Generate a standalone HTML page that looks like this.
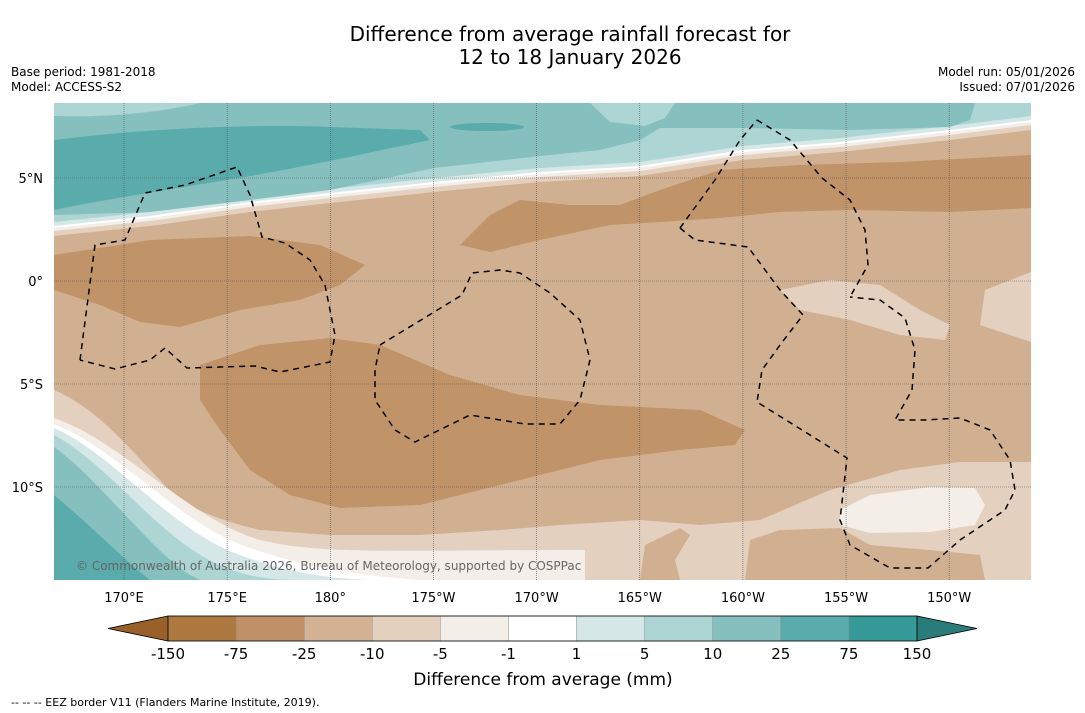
<!DOCTYPE html>
<html><head><meta charset="utf-8"><style>
body{margin:0;background:#fff;width:1085px;height:713px;overflow:hidden;font-family:"DejaVu Sans","Liberation Sans",sans-serif;}
svg{display:block}
</style></head><body>
<svg id="s" width="1085" height="713" viewBox="0 0 1085 713" xmlns="http://www.w3.org/2000/svg" font-family="DejaVu Sans, Liberation Sans, sans-serif">
<text x="570" y="41" font-size="20" text-anchor="middle">Difference from average rainfall forecast for</text>
<text x="570" y="64" font-size="20" text-anchor="middle">12 to 18 January 2026</text>
<text x="11" y="76" font-size="12">Base period: 1981-2018</text>
<text x="11" y="91" font-size="12">Model: ACCESS-S2</text>
<text x="1075" y="76" font-size="12" text-anchor="end">Model run: 05/01/2026</text>
<text x="1075" y="91" font-size="12" text-anchor="end">Issued: 07/01/2026</text>
<defs><clipPath id="mc"><rect x="54" y="103" width="977" height="477"/></clipPath></defs>
<g clip-path="url(#mc)">
<rect x="54" y="103" width="977" height="477" fill="#d1b091"/>
<g id="topbands"></g>
<path d="M54,140 C150,128 250,124 330,127 L420,130 L430,140 C380,150 330,162 250,176 C180,188 100,200 54,210 Z" fill="#5aabab"/>
<ellipse cx="487" cy="127" rx="37" ry="4" fill="#5aabab"/>
<path d="M54,103 L200,103 C170,110 120,118 54,116 Z" fill="#acd5d4"/>
<path d="M590,103 L675,103 L665,118 L645,126 L610,122 Z" fill="#acd5d4"/>
<path d="M54,390 C100,410 130,450 160,480 C180,505 210,518 260,530 L330,535 L420,535 L500,530 L560,525 L640,520 L700,525 L760,520 L830,490 L900,470 L960,462 L1031,462 L1031,580 L54,580 Z" fill="#e4d0bf"/>
<path d="M640,580 L645,545 L680,528 L690,535 L675,560 L680,580 Z" fill="#d1b091"/>
<path d="M745,580 L750,540 L780,530 L840,528 L870,545 L930,550 L980,555 L985,580 Z" fill="#d1b091"/>
<path d="M780,290 L830,280 L880,285 L920,310 L950,325 L945,340 L900,335 L850,320 L800,310 Z" fill="#e4d0bf"/>
<path d="M985,290 L1031,272 L1031,342 L980,325 Z" fill="#e4d0bf"/>
<path d="M54,418 C120,440 190,520 260,540 C320,555 400,550 585,550 L585,580 L54,580 Z" fill="#f3eee8"/>
<path d="M840,510 L870,495 L930,487 L975,488 L985,505 L975,525 L930,532 L870,533 L840,525 Z" fill="#f3eee8"/>
<path d="M54,424 C120,450 180,525 250,548 C300,565 350,575 420,580 L54,580 Z" fill="#ffffff"/>
<path d="M54,428 C115,455 170,530 240,555 C280,570 320,578 370,580 L54,580 Z" fill="#d5e8e7"/>
<path d="M54,435 C110,465 160,540 220,565 C240,574 260,580 300,580 L54,580 Z" fill="#acd5d4"/>
<path d="M54,447 C100,480 150,550 190,575 L200,580 L54,580 Z" fill="#85bfbe"/>
<path d="M54,495 C90,525 130,565 150,580 L54,580 Z" fill="#5aabab"/>
<path d="M54,255 L150,240 L250,236 L320,245 L365,265 L340,285 L300,300 L240,310 L180,327 L140,322 L100,305 L54,290 Z" fill="#c09369"/>
<path d="M200,365 L260,345 L330,338 L380,345 L450,375 L520,395 L600,405 L700,410 L745,430 L735,445 L680,450 L600,460 L540,475 L480,490 L420,505 L340,508 L290,495 L250,470 L220,430 L200,400 Z" fill="#c09369"/>
<path d="M460,245 L490,215 L520,200 L570,205 L620,205 L660,190 L720,170 L800,165 L900,162 L1031,155 L1031,208 L950,212 L850,210 L780,212 L720,218 L660,222 L610,225 L540,240 L490,252 Z" fill="#c09369"/>
<g id="grid"></g>
<g fill="none" stroke="#000" stroke-width="1.5" stroke-dasharray="6,5">
<polyline points="80,360 95,245 125,240 145,193 185,185 237,167 250,195 262,237 285,243 310,260 325,285 330,310 335,335 330,362 280,372 255,366 187,368 165,348 150,360 115,369 80,360"/>
<polyline points="380,345 462,295 472,273 500,270 520,273 550,293 580,320 590,360 580,400 560,424 525,424 470,415 415,442 395,430 375,400 375,370 380,345"/>
<polyline points="757,120 790,140 822,178 850,200 865,230 868,265 850,297"/>
<polyline points="680,228 715,180 740,140 757,120"/>
<polyline points="680,228 695,240 748,247 780,290 803,315 780,345 762,370 757,402 847,458 840,520 850,545 890,568 928,568 960,540 1005,510 1015,490 1010,460 990,430 960,418 925,420 895,420 912,390 915,350 905,318 880,300 850,297"/>
</g>
<text x="76" y="570" font-size="12" fill="#666">© Commonwealth of Australia 2026, Bureau of Meteorology, supported by COSPPac</text>
</g>
<g id="axes"></g>
<g id="cbar"></g>
<text x="543" y="685" font-size="17" text-anchor="middle">Difference from average (mm)</text>
<text x="11" y="706" font-size="11">--  --  -- EEZ border V11 (Flanders Marine Institute, 2019).</text>
</svg>
<script>
const NS="http://www.w3.org/2000/svg";
const levelLabels=["-150","-75","-25","-10","-5","-1","1","5","10","25","75","150"];
const levelColors=["#ae7841","#c09169","#d3b393","#e4d0bf","#f3eee8","#ffffff","#d5e8e7","#acd5d4","#85bfbe","#5aabab","#349997"];
const extendColors=["#9a6029","#2a7c7a"];
const lonTicks=["170°E","175°E","180°","175°W","170°W","165°W","160°W","155°W","150°W"];
const lonValues=[170,175,180,185,190,195,200,205,210];
const latTicks=["5°N","0°","5°S","10°S"];
const latValues=[5,0,-5,-10];
const lonX=l=>124+(l-170)*20.63;
const latY=v=>281-v*20.6;
function mk(t,a,p){const e=document.createElementNS(NS,t);for(const k in a)e.setAttribute(k,a[k]);(p||document.getElementById('s')).appendChild(e);return e;}
const C=[[54,236],[150,226],[250,212],[330,203],[434,192],[540,182],[640,176],[743,160],[840,152],[950,140],[1031,130]];
const bandOff=[[0,"#e4d0bf"],[5,"#f3eee8"],[8,"#ffffff"],[10,"#d5e8e7"],[14,"#acd5d4"]];
const tb=document.getElementById('topbands');
bandOff.forEach(([o,c])=>{
  const pts="54,103 "+C.map(p=>p[0]+","+(p[1]-o)).join(" ")+" 1031,103";
  const e=mk('polygon',{points:pts,fill:c},tb);
  
  
});
const t10=mk('polygon',{points:"54,103 975,103 970,120 950,127 850,130 750,128 660,128 640,140 600,150 540,156 434,168 330,190 250,200 150,212 54,215",fill:"#85bfbe"},tb);


const g=document.getElementById('grid');
lonValues.forEach(l=>{const e=mk('line',{x1:lonX(l),x2:lonX(l),y1:103,y2:580,stroke:"#555","stroke-width":0.6,"stroke-dasharray":"1,1"},g);

});
latValues.forEach(v=>{const e=mk('line',{x1:54,x2:1031,y1:latY(v),y2:latY(v),stroke:"#555","stroke-width":0.6,"stroke-dasharray":"1,1"},g);

});
const ax=document.getElementById('axes');
lonTicks.forEach((t,i)=>{const e=mk('text',{x:lonX(lonValues[i]),y:602,"font-size":13,"text-anchor":"middle"},ax);e.textContent=t;

});
latTicks.forEach((t,i)=>{const e=mk('text',{x:43,y:latY(latValues[i])+5,"font-size":13,"text-anchor":"end"},ax);e.textContent=t;

});
const cb=document.getElementById('cbar');
const x0=168,x1=917,y0=616,y1=641,n=levelColors.length,w=(x1-x0)/n;
const lt=mk('polygon',{points:`${x0},${y0} ${x0},${y1} 108,628.5`,fill:extendColors[0],stroke:"#000","stroke-width":0.8},cb);


const rt=mk('polygon',{points:`${x1},${y0} ${x1},${y1} 977,628.5`,fill:extendColors[1],stroke:"#000","stroke-width":0.8},cb);


levelColors.forEach((c,i)=>{const e=mk('rect',{x:x0+i*w,y:y0,width:w,height:y1-y0,fill:c,stroke:"#888","stroke-width":0.4},cb);

});
mk('rect',{x:x0,y:y0,width:x1-x0,height:y1-y0,fill:"none",stroke:"#000","stroke-width":0.8},cb);
levelLabels.forEach((t,i)=>{const e=mk('text',{x:x0+i*w,y:659,"font-size":15,"text-anchor":"middle"},cb);e.textContent=t;

});
</script>
</body></html>
